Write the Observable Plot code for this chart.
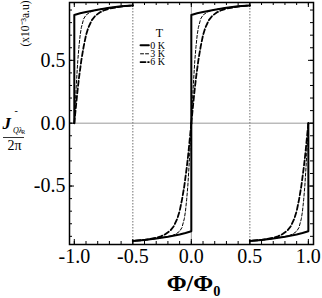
<!DOCTYPE html>
<html>
<head>
<meta charset="utf-8">
<script src="https://cdn.jsdelivr.net/npm/d3@7"></script>
<script src="https://cdn.jsdelivr.net/npm/@observablehq/plot@0.6"></script>
<style>
  html, body { margin: 0; padding: 0; background: white; }
  #chart svg, #chart svg text { font-family: "Liberation Serif", "Times New Roman", serif !important; }
</style>
</head>
<body>
<div id="chart"></div>
<script>
// Offsets from the nearest integer flux (d) and current values
const d0K = [0, 0, 0.05, 0.1, 0.2, 0.3, 0.4, 0.5];
const j0K = [0, 0.86, 0.874, 0.885, 0.903, 0.918, 0.93, 0.937];

const d3K = [0, 0.005, 0.01, 0.02, 0.03, 0.04, 0.05, 0.06, 0.08, 0.1, 0.13, 0.16, 0.2, 0.3, 0.4, 0.5];
const j3K = [0, 0.09, 0.18, 0.35, 0.5, 0.61, 0.7, 0.76, 0.83, 0.86, 0.88, 0.893, 0.903, 0.918, 0.93, 0.937];

const d6K = [0, 0.01, 0.02, 0.03, 0.04, 0.05, 0.06, 0.08, 0.1, 0.12, 0.15, 0.18, 0.22, 0.26, 0.3, 0.4, 0.5];
const j6K = [0, 0.095, 0.19, 0.28, 0.36, 0.43, 0.5, 0.61, 0.7, 0.76, 0.82, 0.855, 0.882, 0.9, 0.912, 0.928, 0.937];

const temps = ["0 K", "3 K", "6 K"];
const xTicks = [-1, -0.5, 0, 0.5, 1];
const yTicks = [-0.5, 0, 0.5];
const xMinor = [-1, -0.9, -0.8, -0.7, -0.6, -0.5, -0.4, -0.3, -0.2, -0.1, 0, 0.1, 0.2, 0.3, 0.4, 0.5, 0.6, 0.7, 0.8, 0.9, 1];
const yMinor = [-0.9, -0.8, -0.7, -0.6, -0.5, -0.4, -0.3, -0.2, -0.1, 0, 0.1, 0.2, 0.3, 0.4, 0.5, 0.6, 0.7, 0.8, 0.9];

// Map one branch (read values) onto the four half-periods by the curve's symmetry
function segments(ds, js, T) {
  const rows = [];
  const maps = [
    (d, j) => [-1 + d, j],
    (d, j) => [-d, -j],
    (d, j) => [d, j],
    (d, j) => [1 - d, -j]
  ];
  maps.forEach((m, s) => {
    ds.forEach((d, i) => {
      const [x, y] = m(d, js[i]);
      rows.push({x, y, T, seg: T + s});
    });
  });
  return rows;
}
const rows0 = segments(d0K, j0K, temps[0]);
const rows3 = segments(d3K, j3K, temps[1]);
const rows6 = segments(d6K, j6K, temps[2]);

const W = 322, H = 298, mT = 2, mR = 9, mB = 54, mL = 69;
const fw = W - mL - mR, fh = H - mT - mB;
const xDom = [-1.041, 1.044], yDom = [-0.965, 0.96];
const pxX = fw / (xDom[1] - xDom[0]);
const pxY = fh / (yDom[1] - yDom[0]);
// pixel -> data helpers for annotations placed in the margins
const xAt = px => xDom[0] + (px - mL) / pxX;
const yAt = py => yDom[1] - (py - mT) / pxY;

// legend layout (data coordinates)
const legY = [0.619, 0.552, 0.486];
const legStyles = [
  {strokeWidth: 2, strokeDasharray: null},
  {strokeWidth: 1, strokeDasharray: "3,2"},
  {strokeWidth: 1.8, strokeDasharray: "5,2.5"}
];

const marks = [
  Plot.ruleY([0], {stroke: "#999", strokeWidth: 1}),
  Plot.ruleX([0], {stroke: "#999", strokeWidth: 1}),
  Plot.ruleX([-0.5, 0.5], {stroke: "#888", strokeWidth: 1.2, strokeDasharray: "1.5,1.5"}),
  Plot.line(rows3, {x: "x", y: "y", z: "seg", stroke: "black", strokeWidth: legStyles[1].strokeWidth, strokeDasharray: legStyles[1].strokeDasharray}),
  Plot.line(rows6, {x: "x", y: "y", z: "seg", stroke: "black", strokeWidth: legStyles[2].strokeWidth, strokeDasharray: legStyles[2].strokeDasharray}),
  Plot.line(rows0, {x: "x", y: "y", z: "seg", stroke: "black", strokeWidth: legStyles[0].strokeWidth}),
  // inner ticks
  Plot.tickX(xTicks, {x: d => d, insetTop: fh - 5, stroke: "black", strokeWidth: 1}),
  Plot.tickX(xTicks, {x: d => d, insetBottom: fh - 5, stroke: "black", strokeWidth: 1}),
  Plot.tickX(xMinor, {x: d => d, insetTop: fh - 3, stroke: "black", strokeWidth: 1}),
  Plot.tickX(xMinor, {x: d => d, insetBottom: fh - 3, stroke: "black", strokeWidth: 1}),
  Plot.tickY(yTicks, {y: d => d, insetRight: fw - 5, stroke: "black", strokeWidth: 1}),
  Plot.tickY(yTicks, {y: d => d, insetLeft: fw - 5, stroke: "black", strokeWidth: 1}),
  Plot.tickY(yMinor, {y: d => d, insetRight: fw - 3, stroke: "black", strokeWidth: 1}),
  Plot.tickY(yMinor, {y: d => d, insetLeft: fw - 3, stroke: "black", strokeWidth: 1}),
  Plot.frame({stroke: "black", strokeWidth: 1.5}),
  Plot.axisX(xTicks, {tickSize: 0, tickPadding: 4, tickFormat: d => d.toFixed(1), fontSize: 20, label: null}),
  Plot.axisY(yTicks, {tickSize: 0, tickPadding: 4, tickFormat: d => d.toFixed(1), fontSize: 20, label: null}),
  // legend
  Plot.text(["T"], {x: -0.272, y: 0.714, fontSize: 12, fill: "black"}),
  ...temps.map((t, i) => Plot.line([[-0.434, legY[i]], [-0.363, legY[i]]], {stroke: "black", strokeWidth: legStyles[i].strokeWidth, strokeDasharray: legStyles[i].strokeDasharray})),
  Plot.text(temps, {x: -0.352, y: (d, i) => legY[i], text: d => d, textAnchor: "start", fontSize: 10, fill: "black"}),
  // axis labels
  Plot.text(["Φ/Φ₀"], {x: xAt(193), y: yAt(283), fontSize: 24, fontWeight: "bold", fill: "black"}),
  Plot.text(["J"], {x: xAt(2), y: yAt(123), textAnchor: "start", fontSize: 17, fontWeight: "bold", fontStyle: "italic", fill: "black"}),
  Plot.text(["-"], {x: xAt(14), y: yAt(110), textAnchor: "start", fontSize: 10, fill: "black"}),
  Plot.text(["Qλ"], {x: xAt(12.5), y: yAt(130), textAnchor: "start", fontSize: 8, fontStyle: "italic", fill: "black"}),
  Plot.text(["R"], {x: xAt(21), y: yAt(131.5), textAnchor: "start", fontSize: 5.5, fill: "black"}),
  Plot.ruleY([yAt(137)], {x1: xAt(3), x2: xAt(24), stroke: "black", strokeWidth: 0.8, clip: false}),
  Plot.text(["2π"], {x: xAt(14), y: yAt(145), fontSize: 14, fill: "black"}),
  Plot.text(["(x10⁻³a.u)"], {x: xAt(25), y: yAt(23), rotate: -90, fontSize: 11.5, fill: "black"})
];

const chart = Plot.plot({
  width: W, height: H,
  marginTop: mT, marginRight: mR, marginBottom: mB, marginLeft: mL,
  x: {domain: xDom},
  y: {domain: yDom},
  style: {background: "white", color: "black"},
  marks
});
document.getElementById("chart").appendChild(chart);
</script>
</body>
</html>
